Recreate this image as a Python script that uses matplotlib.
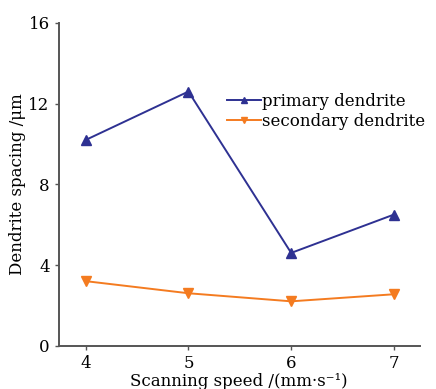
import matplotlib
matplotlib.use("Agg")
import matplotlib.pyplot as plt

# data
speed = [4, 5, 6, 7]
primary = [10.2, 12.6, 4.6, 6.5]
secondary = [3.2, 2.6, 2.2, 2.55]
yticks = [0, 4, 8, 12, 16]

plt.rcParams["font.family"] = ["DejaVu Serif"]

fig = plt.figure(figsize=(4.36, 3.89), dpi=100)
ax = fig.add_axes([0.1346, 0.1113, 0.963 - 0.1346, 0.941 - 0.1113])

ax.plot(speed, primary, color="#2e3192", marker="^", markersize=7, lw=1.4,
        label="primary dendrite")
ax.plot(speed, secondary, color="#f47b20", marker="v", markersize=7, lw=1.4,
        label="secondary dendrite")

ax.set_xlim(3.737, 7.253)
ax.set_ylim(0, 16)
ax.set_xticks(speed)
ax.set_yticks(yticks)

for s in ["top", "right"]:
    ax.spines[s].set_visible(False)
for s in ["left", "bottom"]:
    ax.spines[s].set_color("#555555")
    ax.spines[s].set_linewidth(1.4)
ax.tick_params(colors="#555555", labelcolor="black", labelsize=12, length=3, width=1)

ax.set_xlabel("Scanning speed /(mm·s⁻¹)", fontsize=12, labelpad=1)
ax.set_ylabel("Dendrite spacing /μm", fontsize=12, labelpad=2)

ax.legend(loc="upper right", bbox_to_anchor=(1.032, 0.805), frameon=False,
          fontsize=12, handlelength=2.0, handletextpad=0.05, labelspacing=0.2,
          borderaxespad=0, markerscale=0.6)

fig.savefig("out.png", dpi=100)
